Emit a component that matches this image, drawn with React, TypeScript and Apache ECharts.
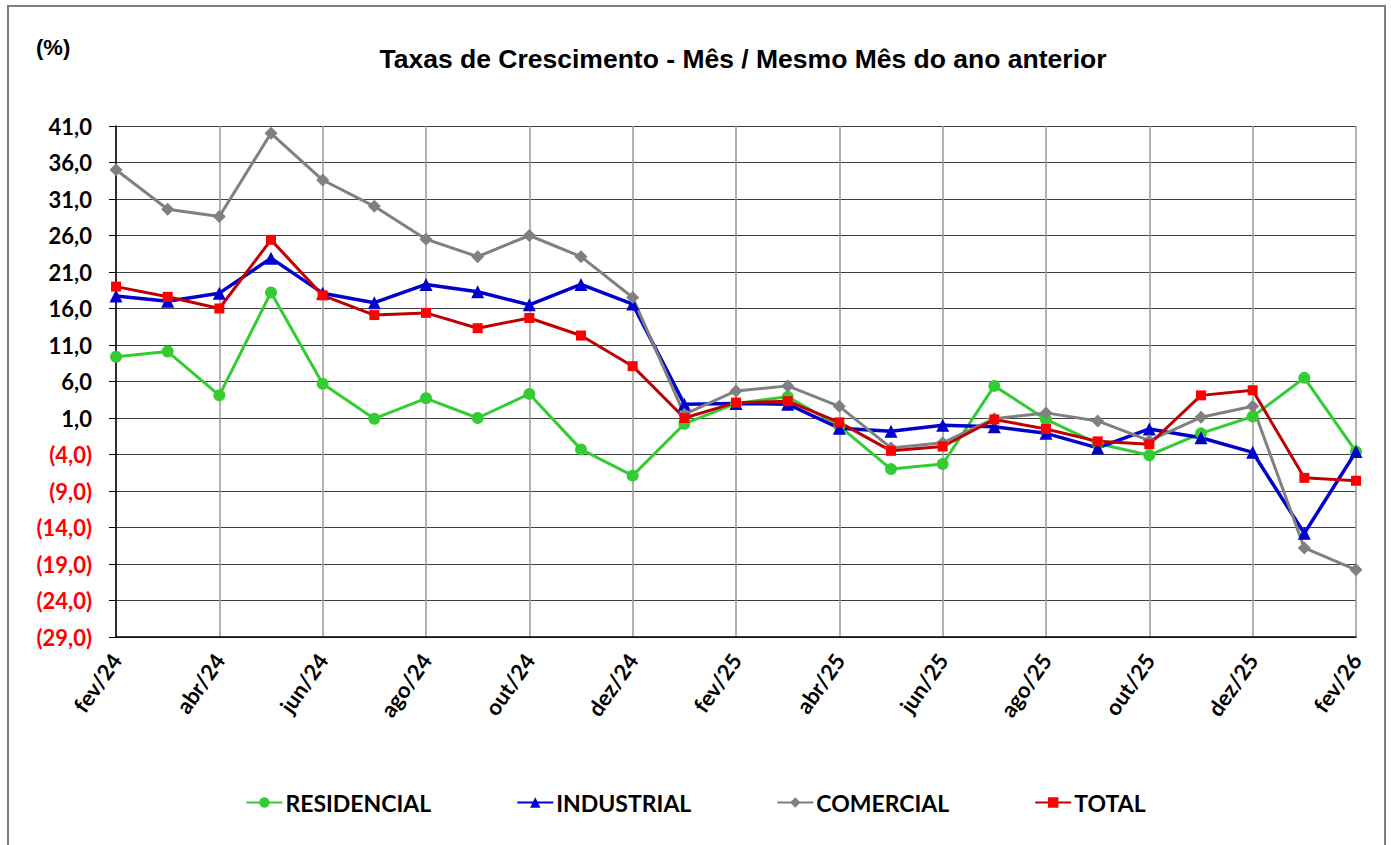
import React, { useEffect, useRef } from "react";
import * as echarts from "echarts";

const months = [
  "fev/24", "mar/24", "abr/24", "mai/24", "jun/24", "jul/24", "ago/24", "set/24", "out/24", "nov/24", "dez/24", "jan/25",
  "fev/25", "mar/25", "abr/25", "mai/25", "jun/25", "jul/25", "ago/25", "set/25", "out/25", "nov/25", "dez/25", "jan/26",
  "fev/26",
];

const residencial = [9.4, 10.1, 4.1, 18.2, 5.7, 0.9, 3.7, 1.0, 4.3, -3.3, -6.9, 0.2, 3.0, 3.9, -0.1, -6.0, -5.3, 5.4, 0.8, -2.5, -4.1, -1.1, 1.2, 6.5, -3.6];
const industrial = [17.7, 17.0, 18.1, 22.9, 18.1, 16.8, 19.3, 18.3, 16.5, 19.3, 16.6, 2.9, 3.0, 2.9, -0.4, -0.8, 0.0, -0.2, -1.1, -3.1, -0.5, -1.7, -3.7, -14.8, -3.6];
const comercial = [35.0, 29.6, 28.6, 40.0, 33.6, 30.0, 25.5, 23.1, 26.0, 23.1, 17.5, 1.5, 4.7, 5.4, 2.6, -3.1, -2.4, 0.9, 1.7, 0.6, -2.1, 1.1, 2.6, -16.8, -19.8];
const total = [19.0, 17.6, 16.0, 25.4, 17.8, 15.1, 15.4, 13.3, 14.7, 12.3, 8.1, 1.0, 3.1, 3.3, 0.4, -3.5, -2.9, 0.8, -0.5, -2.2, -2.6, 4.1, 4.8, -7.2, -7.6];

// y-axis tick labels run from -29 to 41 in steps of 5
const Y_MIN = -29;
const Y_MAX = 41;
const Y_STEP = 5;

const FONT = "Lato, 'Liberation Sans', sans-serif";
const TITLE_FONT = "'Liberation Sans', Arial, sans-serif";

function fmt(v: number): string {
  const s = Math.abs(v).toFixed(1).replace(".", ",");
  return v < 0 ? "{neg|(" + s + ")}" : "{pos|" + s + "}";
}

export default function App() {
  const ref = useRef<HTMLDivElement>(null);

  useEffect(() => {
    if (!ref.current) return;
    const chart = echarts.init(ref.current, null, { renderer: "svg" });
    const shift = (arr: number[]) => arr.map((v) => +(v - Y_MIN).toFixed(3));

    const mk = (name: string, data: number[], lineColor: string, markColor: string, symbol: string, size: number, width: number) => ({
      name,
      type: "line",
      data: shift(data),
      symbol,
      symbolSize: size,
      showAllSymbol: true,
      lineStyle: { color: lineColor, width },
      itemStyle: { color: markColor, borderWidth: 0 },
      emphasis: { disabled: true },
    });

    chart.setOption({
      animation: false,
      backgroundColor: "#ffffff",
      textStyle: { fontFamily: FONT },
      graphic: [
        {
          type: "rect",
          shape: { x: 8, y: 6, width: 1377, height: 860 },
          style: { fill: "none", stroke: "#7f7f7f", lineWidth: 2 },
          silent: true,
        },
        {
          type: "text",
          x: 36,
          y: 36,
          style: { text: "(%)", font: "bold 22px " + TITLE_FONT, fill: "#000" },
        },
        {
          type: "text",
          x: 743,
          y: 45,
          style: {
            text: "Taxas de Crescimento - Mês / Mesmo Mês do ano anterior",
            font: "bold 26.5px " + TITLE_FONT,
            fill: "#000",
            textAlign: "center",
          },
        },
      ],
      grid: { left: 116, right: 35, top: 126, bottom: 208, containLabel: false },
      legend: {
        data: ["RESIDENCIAL", "INDUSTRIAL", "COMERCIAL", "TOTAL"],
        left: "center",
        top: 786,
        itemWidth: 36,
        itemHeight: 13,
        itemGap: 85,
        textStyle: { fontFamily: FONT, fontWeight: "bold", fontSize: 23, color: "#000", padding: [0, 0, 0, -2] },
      },
      xAxis: {
        type: "category",
        data: months,
        boundaryGap: false,
        axisLine: { show: true, lineStyle: { color: "#000", width: 1.5 } },
        axisTick: { show: false },
        axisLabel: {
          interval: 1,
          rotate: 55,
          margin: 19,
          fontFamily: FONT,
          fontWeight: "bold",
          fontSize: 22,
          color: "#000",
        },
        splitLine: { show: true, interval: 1, lineStyle: { color: "#999999", width: 1.5 } },
      },
      yAxis: {
        type: "value",
        min: 0,
        max: Y_MAX - Y_MIN,
        interval: Y_STEP,
        axisLine: { show: true, lineStyle: { color: "#000", width: 1.5 } },
        axisTick: { show: true, length: 7, lineStyle: { color: "#000" } },
        splitLine: { show: true, lineStyle: { color: "#404040", width: 1.2 } },
        axisLabel: {
          margin: 24,
          formatter: (v: number) => fmt(v + Y_MIN),
          rich: {
            pos: { fontFamily: FONT, fontWeight: "bold", fontSize: 22, color: "#000" },
            neg: { fontFamily: FONT, fontWeight: "bold", fontSize: 22, color: "#ff0000" },
          },
        },
      },
      series: [
        mk("RESIDENCIAL", residencial, "#33cc33", "#33cc33", "circle", 12, 3),
        mk("INDUSTRIAL", industrial, "#0000cc", "#0000cc", "triangle", 13, 3.5),
        mk("COMERCIAL", comercial, "#808080", "#808080", "diamond", 13, 3),
        mk("TOTAL", total, "#c00000", "#ff0000", "rect", 10, 3),
      ],
    });

    return () => chart.dispose();
  }, []);

  return <div ref={ref} style={{ position: "absolute", left: 0, top: 0, width: 1391, height: 845 }} />;
}
